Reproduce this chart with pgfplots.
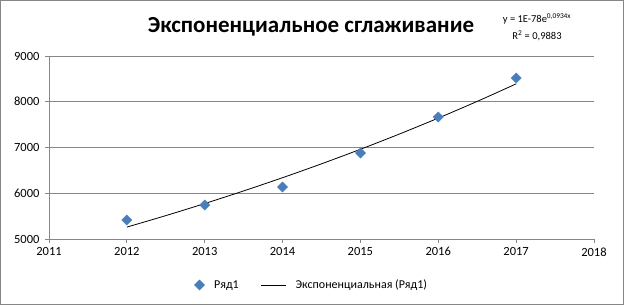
\documentclass[border=0pt]{standalone}
\usepackage{pgfplots}
\pgfplotsset{compat=1.18}
\usepackage{fontspec}
\setmainfont{Carlito}
\definecolor{gridgray}{RGB}{134,134,134}
\definecolor{exblue}{RGB}{74,126,187}
\pgfplotsset{
  longlegend/.style={legend image code/.code={\draw[##1] (0pt,0pt) -- (25pt,0pt); \path (32pt,0pt);}},
  marklegend/.style={legend image code/.code={\draw[mark repeat=2,mark phase=2,##1] plot coordinates {(0pt,0pt) (8.5pt,0pt) (17pt,0pt)}; \path (21pt,0pt);}}
}
\begin{document}
\begin{tikzpicture}[x=1pt,y=1pt]
\fill[white] (0,0) rectangle (624,305);
\draw[gridgray, line width=0.8pt] (0.5,0.5) rectangle (623.5,304.5);
\node[font=\fontsize{23}{26}\selectfont\bfseries] at (311,278) {Экспоненциальное сглаживание};
\node[font=\fontsize{10.5}{12}\selectfont, anchor=center] at (537,286) {y = 1E-78e\textsuperscript{0,0934x}};
\node[font=\fontsize{10.5}{12}\selectfont, anchor=center] at (537,269) {R\textsuperscript{2} = 0,9883};
\begin{axis}[
  at={(49pt,66pt)}, anchor=south west,
  scale only axis, width=545pt, height=183pt,
  xmin=2011, xmax=2018, ymin=5000, ymax=9000,
  xtick={2011,...,2018}, ytick={5000,6000,7000,8000,9000},
  axis x line*=bottom, axis y line*=left,
  axis line style={gridgray, line width=0.8pt, -},
  ymajorgrids, grid style={gridgray, line width=0.8pt},
  tick style={gridgray, line width=0.8pt},
  tick align=outside, major tick length=4pt,
  ticklabel style={font=\fontsize{12.5}{14}\selectfont},
  /pgf/number format/assume math mode=true,
  /pgf/number format/1000 sep={},
  xticklabel style={yshift=-1pt},
  yticklabel style={xshift=-2pt},
  legend columns=2,
  legend style={at={(0.261,-0.251)}, anchor=west, draw=none, fill=none,
    font=\fontsize{12}{14}\selectfont, /tikz/every even column/.append style={column sep=20pt}},
  legend cell align=left,
  clip=false,
]
\addplot[only marks, mark=square*, mark size=3.6pt, color=exblue, mark options={fill=exblue, draw=exblue, rotate=45}, marklegend]
coordinates {(2012,5415) (2013,5743) (2014,6137) (2015,6880) (2016,7667) (2017,8519)};
\addlegendentry{Ряд1}
\addplot[black, line width=0.8pt, smooth, longlegend] coordinates {
(2012,5260) (2012.5,5511) (2013,5775) (2013.5,6051) (2014,6340) (2014.5,6643)
(2015,6961) (2015.5,7294) (2016,7643) (2016.5,8008) (2017,8391)};
\addlegendentry{Экспоненциальная (Ряд1)}
\end{axis}
\end{tikzpicture}
\end{document}
